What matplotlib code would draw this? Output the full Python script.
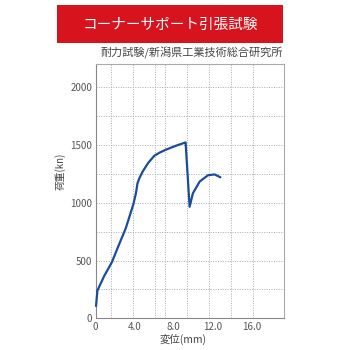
import matplotlib
matplotlib.use("Agg")
import matplotlib.pyplot as plt
from matplotlib.patches import Rectangle

plt.rcParams['font.family'] = ['Noto Sans CJK JP', 'DejaVu Sans']

# Data (displacement mm, load kN)
disp = [0.05, 0.19, 0.88, 1.67, 2.25, 3.1, 3.87, 4.14, 4.3, 4.48, 4.83, 5.4, 6.03, 6.6, 7.24, 8.27, 9.23,
        9.64, 9.98, 10.67, 11.53, 12.2, 12.8]
load = [106, 240, 365, 485, 606, 780, 985, 1082, 1169, 1210, 1270, 1345, 1407, 1435, 1460, 1494, 1522,
        965, 1082, 1183, 1238, 1245, 1220]

title = "コーナーサポート引張試験"
subtitle = "耐力試験/新潟県工業技術総合研究所"
xlabel = "変位(mm)"
ylabel = "荷重(kn)"
xticks = [0, 4, 8, 12, 16]
xticklabels = ["0", "4.0", "8.0", "12.0", "16.0"]
yticks = [0, 500, 1000, 1500, 2000]
yticklabels = ["0", "500", "1000", "1500", "2000"]
ygrid = [250, 500, 750, 1000, 1250, 1500, 1750, 2000]
xgrid = [1.6, 3.87, 6.13, 7.16, 9.33, 11.6, 13.87, 16.13]

fig = plt.figure(figsize=(3.5, 3.5), dpi=100)
fig.patch.set_facecolor('white')

# Title box
fig.patches.append(Rectangle((0.163, 0.877), 0.646, 0.109, transform=fig.transFigure,
                             facecolor='#d7141e', edgecolor='none'))
fig.text(0.486, 0.930, title, color='white', fontsize=10.5, ha='center', va='center')
fig.text(0.809, 0.849, subtitle, color='#444444', fontsize=8, ha='right', va='center')

ax = fig.add_axes([0.273, 0.0906, 0.538, 0.7264])
ax.set_xlim(0, 19.3)
ax.set_ylim(0, 2200)

for g in ygrid:
    ax.axhline(g, color='#aaaaaa', lw=0.7, ls=(0, (1, 1.5)), zorder=1)
for g in xgrid:
    ax.axvline(g, color='#aaaaaa', lw=0.7, ls=(0, (1, 1.5)), zorder=1)

ax.plot(disp, load, color='#1b4c9c', lw=1.6, solid_capstyle='round', solid_joinstyle='round',
        zorder=3, clip_on=False)

for s in ax.spines.values():
    s.set_color('#aaaaaa')
    s.set_linewidth(0.8)
ax.spines['left'].set_color('#888888')
ax.spines['bottom'].set_color('#888888')

ax.set_xticks(xticks)
ax.set_xticklabels(xticklabels)
ax.set_yticks(yticks)
ax.set_yticklabels(yticklabels)
ax.tick_params(axis='both', length=0, labelsize=7, colors='#555555', pad=3)
ax.tick_params(axis='y', pad=2.5)

fig.text(0.171, 0.511, ylabel, rotation=90, fontsize=7, color='#444444', ha='center', va='center')
fig.text(0.523, 0.029, xlabel, fontsize=7.5, color='#444444', ha='center', va='center')

fig.savefig('out.png', dpi=100, facecolor='white')
